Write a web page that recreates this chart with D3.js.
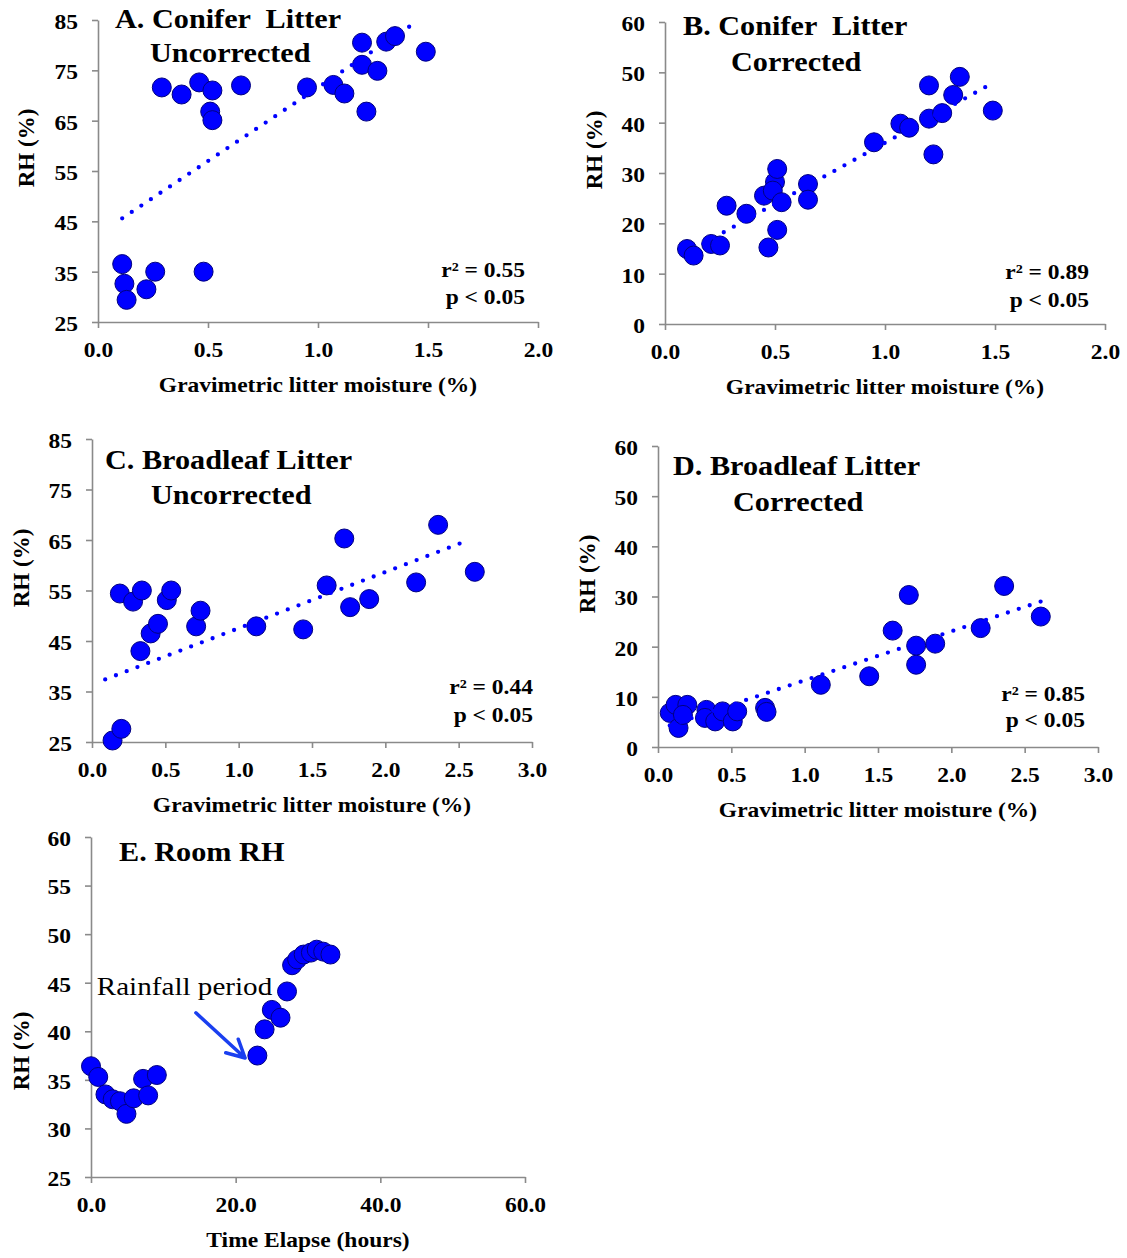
<!DOCTYPE html>
<html>
<head>
<meta charset="utf-8">
<script src="https://cdn.jsdelivr.net/npm/d3@7"></script>
<style>
  body { margin: 0; background: #fff; }
  svg { display: block; }
  text { font-family: "Liberation Serif", "Times New Roman", serif; fill: #000; white-space: pre; }
</style>
</head>
<body>
<div id="chart"></div>
<script>
// ---- data ----
const moistureTicks2 = [0, 0.5, 1.0, 1.5, 2.0];
const moistureTicks3 = [0, 0.5, 1.0, 1.5, 2.0, 2.5, 3.0];
const rhTicksUnc = [25, 35, 45, 55, 65, 75, 85];
const rhTicksCor = [0, 10, 20, 30, 40, 50, 60];
const timeTicks = [0, 20, 40, 60];
const roomTicks = [25, 30, 35, 40, 45, 50, 55, 60];

// A. conifer litter, uncorrected
const coniferUncX = [0.29, 0.38, 0.46, 0.52, 0.51, 0.52, 0.65, 0.95, 1.07, 1.12, 1.20, 1.20, 1.27, 1.22, 1.31, 1.35, 1.49, 0.11, 0.12, 0.13, 0.22, 0.26, 0.48];
const coniferUncY = [71.6, 70.2, 72.6, 71.0, 66.8, 65.1, 72.0, 71.6, 72.1, 70.4, 80.5, 76.1, 74.9, 66.8, 80.7, 81.8, 78.7, 36.5, 32.6, 29.4, 31.5, 35.0, 35.0];
const coniferUncTrend = [[0.11, 45.6], [1.45, 84.7]];

// B. conifer litter, corrected
const coniferCorX = [0.10, 0.13, 0.21, 0.25, 0.28, 0.37, 0.45, 0.47, 0.50, 0.51, 0.49, 0.53, 0.51, 0.65, 0.65, 0.95, 1.07, 1.11, 1.20, 1.20, 1.26, 1.22, 1.31, 1.34, 1.49];
const coniferCorY = [14.9, 13.6, 15.9, 15.6, 23.5, 21.9, 25.5, 15.2, 28.2, 30.8, 26.5, 24.2, 18.7, 27.8, 24.7, 36.1, 39.8, 39.0, 47.4, 40.8, 41.9, 33.7, 45.5, 49.1, 42.4];
const coniferCorTrend = [[0.13, 14.9], [1.47, 47.4]];

// C. broadleaf litter, uncorrected
const broadUncX = [0.14, 0.20, 0.19, 0.28, 0.34, 0.33, 0.40, 0.45, 0.51, 0.54, 0.71, 0.74, 1.12, 1.44, 1.60, 1.72, 1.76, 1.89, 2.21, 2.36, 2.61];
const broadUncY = [25.3, 27.6, 54.4, 52.8, 55.0, 43.0, 46.5, 48.4, 53.1, 55.0, 47.9, 51.0, 47.9, 47.3, 56.0, 65.3, 51.7, 53.3, 56.6, 68.0, 58.7];
const broadUncTrend = [[0.09, 37.4], [2.57, 65.0]];

// D. broadleaf litter, corrected
const broadCorX = [0.08, 0.12, 0.14, 0.20, 0.17, 0.33, 0.32, 0.39, 0.44, 0.51, 0.54, 0.73, 0.74, 1.11, 1.44, 1.60, 1.71, 1.76, 1.76, 1.89, 2.20, 2.36, 2.61];
const broadCorY = [6.8, 8.4, 3.8, 8.4, 6.4, 7.4, 5.8, 5.1, 7.1, 5.1, 7.1, 7.8, 7.0, 12.4, 14.1, 23.2, 30.3, 16.4, 20.2, 20.6, 23.7, 32.1, 26.0];
const broadCorTrend = [[0.08, 4.3], [2.61, 29.0]];

// E. room RH over time
const roomTime = [0.0, 1.0, 2.0, 3.0, 4.0, 4.9, 5.9, 7.2, 7.9, 9.1, 23.0, 24.0, 25.0, 26.2, 27.1, 27.8, 28.5, 29.4, 30.4, 31.2, 32.1, 33.1];
const roomRH = [36.4, 35.3, 33.5, 33.0, 32.8, 31.5, 33.1, 35.1, 33.4, 35.5, 37.5, 40.2, 42.2, 41.4, 44.1, 46.8, 47.4, 47.9, 48.1, 48.4, 48.2, 47.9];
const rainLabel = [0.8, 43.7];
const rainArrow = [[14.5, 41.9], [21.3, 37.25]];

// ---- drawing ----
const W = 1127, H = 1258;
const SX = 1.12;          // glyphs in the figure are a little wider than the font
const BLUE = '#0000ff';
const AXIS = '#8a8a8a';

const svg = d3.select('#chart').append('svg')
  .attr('width', W).attr('height', H);
svg.append('rect').attr('width', W).attr('height', H).attr('fill', '#fff');

function label(g, x, y, str, size, weight, anchor = 'start') {
  return g.append('text')
    .attr('transform', `translate(${x},${y}) scale(${SX},1)`)
    .attr('font-size', size)
    .attr('font-weight', weight)
    .attr('text-anchor', anchor)
    .text(str);
}

function drawPanel(p) {
  const x = d3.scaleLinear().domain(p.xDomain).range([p.left, p.right]);
  const y = d3.scaleLinear().domain(p.yDomain).range([p.bottom, p.top]);
  const g = svg.append('g').attr('class', 'panel');

  // axes
  const xAxis = g.append('g')
    .attr('transform', `translate(0,${p.bottom})`)
    .call(d3.axisBottom(x).tickValues(p.xTicks).tickFormat(d3.format('.1f'))
      .tickSize(6).tickSizeOuter(0));
  xAxis.selectAll('text')
    .attr('y', 35).attr('dy', null)
    .attr('transform', `scale(${SX},1)`)
    .attr('font-size', 21).attr('font-weight', 'bold')
    .attr('font-family', null);

  const yAxis = g.append('g')
    .attr('transform', `translate(${p.left},0)`)
    .call(d3.axisLeft(y).tickValues(p.yTicks).tickFormat(d3.format('d'))
      .tickSize(6).tickSizeOuter(0));
  yAxis.selectAll('text')
    .attr('x', -20 / SX).attr('dy', '0.4em')
    .attr('transform', `scale(${SX},1)`)
    .attr('font-size', 21).attr('font-weight', 'bold')
    .attr('font-family', null);

  g.selectAll('.domain, .tick line')
    .attr('stroke', AXIS).attr('stroke-width', 1.6);
  g.selectAll('.tick text').attr('fill', '#000');

  // axis titles
  label(g, (p.left + p.right) / 2, p.bottom + 70, p.xTitle, 21, 'bold', 'middle');
  g.append('text')
    .attr('transform', `translate(${p.yTitlePos[0] + 8},${p.yTitlePos[1]}) rotate(-90)`)
    .attr('font-size', 23).attr('font-weight', 'bold')
    .attr('text-anchor', 'middle')
    .text('RH (%)');

  // points
  const pts = d3.zip(p.xs, p.ys);
  g.append('g').selectAll('circle')
    .data(pts)
    .join('circle')
      .attr('cx', d => x(d[0]))
      .attr('cy', d => y(d[1]))
      .attr('r', 9.5)
      .attr('fill', BLUE)
      .attr('stroke', '#000080')
      .attr('stroke-width', 1);

  // dotted linear trend
  if (p.trend) {
    g.append('path')
      .attr('d', d3.line().x(d => x(d[0])).y(d => y(d[1]))(p.trend))
      .attr('fill', 'none')
      .attr('stroke', BLUE)
      .attr('stroke-width', 4.3)
      .attr('stroke-linecap', 'round')
      .attr('stroke-dasharray', '0 11.5');
  }

  // panel title
  p.title.forEach(t => label(g, p.left + t[1], p.top + t[2], t[0], 27, 'bold'));

  // statistics
  if (p.stats) {
    label(g, p.right + p.stats[2], p.bottom + p.stats[3], p.stats[0], 21, 'bold', 'end');
    label(g, p.right + p.stats[2], p.bottom + p.stats[4], p.stats[1], 21, 'bold', 'end');
  }
  return { g, x, y };
}

drawPanel({
  left: 98, right: 538, top: 20, bottom: 322,
  xDomain: [0, 2], yDomain: [25, 85], xTicks: moistureTicks2, yTicks: rhTicksUnc,
  xs: coniferUncX, ys: coniferUncY, trend: coniferUncTrend,
  xTitle: 'Gravimetric litter moisture (%)', yTitlePos: [26, 148],
  title: [['A. Conifer  Litter', 17, 8], ['Uncorrected', 52, 42]],
  stats: ['r\u00b2 = 0.55', 'p < 0.05', -13, -45, -18]
});

drawPanel({
  left: 665, right: 1105, top: 22, bottom: 324,
  xDomain: [0, 2], yDomain: [0, 60], xTicks: moistureTicks2, yTicks: rhTicksCor,
  xs: coniferCorX, ys: coniferCorY, trend: coniferCorTrend,
  xTitle: 'Gravimetric litter moisture (%)', yTitlePos: [594, 150],
  title: [['B. Conifer  Litter', 18, 13], ['Corrected', 66, 49]],
  stats: ['r\u00b2 = 0.89', 'p < 0.05', -16, -45, -17]
});

drawPanel({
  left: 92, right: 532, top: 439, bottom: 742,
  xDomain: [0, 3], yDomain: [25, 85], xTicks: moistureTicks3, yTicks: rhTicksUnc,
  xs: broadUncX, ys: broadUncY, trend: broadUncTrend,
  xTitle: 'Gravimetric litter moisture (%)', yTitlePos: [21, 568],
  title: [['C. Broadleaf Litter', 13, 30], ['Uncorrected', 59, 65]],
  stats: ['r\u00b2 = 0.44', 'p < 0.05', 1, -48, -20]
});

drawPanel({
  left: 658, right: 1098, top: 446, bottom: 747,
  xDomain: [0, 3], yDomain: [0, 60], xTicks: moistureTicks3, yTicks: rhTicksCor,
  xs: broadCorX, ys: broadCorY, trend: broadCorTrend,
  xTitle: 'Gravimetric litter moisture (%)', yTitlePos: [587, 574],
  title: [['D. Broadleaf Litter', 15, 29], ['Corrected', 75, 65]],
  stats: ['r\u00b2 = 0.85', 'p < 0.05', -13, -46, -20]
});

const e = drawPanel({
  left: 91, right: 525, top: 837, bottom: 1177,
  xDomain: [0, 60], yDomain: [25, 60], xTicks: timeTicks, yTicks: roomTicks,
  xs: roomTime, ys: roomRH, trend: null,
  xTitle: 'Time Elapse (hours)', yTitlePos: [21, 1051],
  title: [['E. Room RH', 28, 24]],
  stats: null
});

// rainfall annotation
label(e.g, e.x(rainLabel[0]), e.y(rainLabel[1]), 'Rainfall period', 26, 'normal');
const [a0, a1] = rainArrow.map(d => [e.x(d[0]), e.y(d[1])]);
const ang = Math.atan2(a1[1] - a0[1], a1[0] - a0[0]);
const head = [ang + Math.PI - 0.48, ang + Math.PI + 0.48].map(t => [a1[0] + 20 * Math.cos(t), a1[1] + 20 * Math.sin(t)]);
e.g.append('path')
  .attr('d', `M${a0}L${a1}M${head[0]}L${a1}L${head[1]}`)
  .attr('fill', 'none')
  .attr('stroke', '#1a3ff0')
  .attr('stroke-width', 3.5)
  .attr('stroke-linecap', 'round')
  .attr('stroke-linejoin', 'round');
</script>
</body>
</html>
